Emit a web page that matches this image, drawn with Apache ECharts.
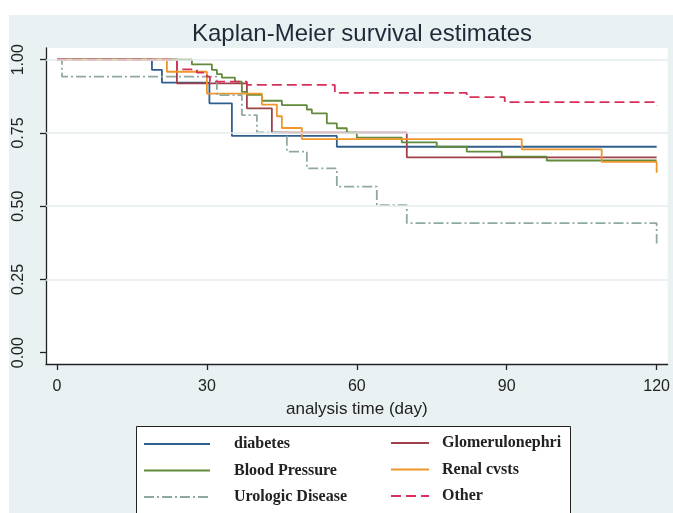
<!DOCTYPE html>
<html>
<head>
<meta charset="utf-8">
<script src="https://cdn.jsdelivr.net/npm/echarts@6/dist/echarts.min.js"></script>
<style>html,body{margin:0;padding:0;background:#fff}#c{width:673px;height:513px}</style>
</head>
<body>
<div id="c"></div>
<script>
// ---- data (time in days, survival probability) ----
const xTicks = [0, 30, 60, 90, 120];
const yTicks = [0, 0.25, 0.5, 0.75, 1];
const yGrid = [0.25, 0.5, 0.75, 1];

const seriesNames = ['diabetes', 'Glomerulonephri', 'Blood Pressure', 'Renal cvsts', 'Urologic Disease', 'Other'];

const diabetesT = [0, 19, 21, 30.5, 35, 56, 120];
const diabetesS = [1, 0.965, 0.922, 0.851, 0.74, 0.703, 0.703];

const glomT = [0, 24, 38, 43, 70, 120];
const glomS = [1, 0.919, 0.834, 0.751, 0.667, 0.667];

const bpT = [0, 27, 31, 32, 33, 35.6, 37, 38, 41, 45, 50, 51, 54, 56, 58, 60, 69, 76, 82, 89, 98, 120];
const bpS = [1, 0.984, 0.965, 0.951, 0.939, 0.925, 0.89, 0.88, 0.86, 0.845, 0.83, 0.817, 0.783, 0.766, 0.751, 0.734, 0.718, 0.703, 0.686, 0.669, 0.656, 0.656];

const renalT = [0, 22, 30, 41, 44, 45, 49, 93, 109, 120];
const renalS = [1, 0.959, 0.884, 0.847, 0.807, 0.767, 0.729, 0.694, 0.651, 0.614];

const uroT = [0, 1, 32, 37, 40, 46, 50, 56, 64, 70, 120];
const uroS = [1, 0.942, 0.879, 0.811, 0.752, 0.686, 0.629, 0.567, 0.504, 0.442, 0.373];

const otherT = [0, 24, 28, 30, 30.6, 38, 55.6, 82, 89.6, 120];
const otherS = [1, 0.967, 0.956, 0.942, 0.925, 0.914, 0.887, 0.872, 0.855, 0.845];

// ---- styling ----
const colors = {
  'diabetes': '#2f5f8f',
  'Glomerulonephri': '#a0404a',
  'Blood Pressure': '#628a3a',
  'Renal cvsts': '#f0962a',
  'Urologic Disease': '#8eaaa0',
  'Other': '#d8305a'
};
const dashes = {
  'Urologic Disease': [10, 3, 2, 3],
  'Other': [10, 5]
};
const pairs = (t, s) => t.map((v, i) => [v, s[i]]);
const dataMap = {
  'diabetes': pairs(diabetesT, diabetesS),
  'Glomerulonephri': pairs(glomT, glomS),
  'Blood Pressure': pairs(bpT, bpS),
  'Renal cvsts': pairs(renalT, renalS),
  'Urologic Disease': pairs(uroT, uroS),
  'Other': pairs(otherT, otherS)
};

const sans = 'Liberation Sans, Arial, sans-serif';
const serif = 'Liberation Serif, Times New Roman, serif';

const series = [{
  type: 'line', name: '_grid', data: [], z: 1, silent: true,
  markLine: {
    silent: true, symbol: 'none', animation: false,
    label: { show: false },
    lineStyle: { color: '#e4edef', width: 1.5, type: 'solid' },
    data: yGrid.map(v => ({ yAxis: v }))
  }
}].concat(seriesNames.map(n => ({
  type: 'line', name: n, step: 'end', symbol: 'none', showSymbol: false,
  animation: false, z: 3,
  data: dataMap[n],
  color: colors[n],
  lineStyle: { color: colors[n], width: 1.8, type: dashes[n] || 'solid' }
})));

const legendCommon = {
  orient: 'vertical', itemHeight: 16, padding: 0, height: 100,
  selectedMode: false,
  itemStyle: { opacity: 0 },
  textStyle: { fontFamily: serif, fontWeight: 'bold', fontSize: 16, color: '#222', lineHeight: 16 }
};

const chart = echarts.init(document.getElementById('c'), null, { renderer: 'canvas' });
chart.setOption({
  animation: false,
  backgroundColor: '#ffffff',
  graphic: [
    { type: 'rect', z: -10, shape: { x: 9, y: 15, width: 664, height: 498 }, style: { fill: '#eaf1f3' } },
    { type: 'rect', z: -5, shape: { x: 136.5, y: 426.5, width: 434, height: 100 }, style: { fill: '#ffffff', stroke: '#222', lineWidth: 1 } }
  ],
  title: {
    text: 'Kaplan-Meier survival estimates',
    left: 357, top: 17, textAlign: 'center',
    textStyle: { fontFamily: sans, fontSize: 24, fontWeight: 'normal', color: '#1f2a38' }
  },
  grid: { left: 46, right: 5, top: 48, bottom: 149, show: true, backgroundColor: '#ffffff', borderWidth: 0 },
  xAxis: {
    type: 'value', min: -2.2, max: 122.2,
    name: 'analysis time (day)', nameLocation: 'middle', nameGap: 37,
    nameTextStyle: { fontFamily: sans, fontSize: 17, color: '#222' },
    axisLine: { show: true, onZero: false, lineStyle: { color: '#222', width: 1.3 } },
    axisTick: { show: true, length: 6, customValues: xTicks, lineStyle: { color: '#222', width: 1.3 } },
    axisLabel: { customValues: xTicks, margin: 15, fontFamily: sans, fontSize: 16, color: '#222' },
    splitLine: { show: false }
  },
  yAxis: {
    type: 'value', min: -0.0386, max: 1.04,
    axisLine: { show: true, onZero: false, lineStyle: { color: '#222', width: 1.3 } },
    axisTick: { show: true, length: 6, customValues: yTicks, lineStyle: { color: '#222', width: 1.3 } },
    axisLabel: { customValues: yTicks, rotate: 90, margin: 19, fontFamily: sans, fontSize: 16, color: '#222',
      formatter: v => v.toFixed(2) },
    splitLine: { show: false }
  },
  legend: [
    Object.assign({}, legendCommon, {
      data: ['diabetes', 'Blood Pressure', 'Urologic Disease'],
      left: 143, top: 431, itemWidth: 66, itemGap: 0.5,
      textStyle: Object.assign({}, legendCommon.textStyle, { padding: [10, 0, 0, 19] })
    }),
    Object.assign({}, legendCommon, {
      data: ['Glomerulonephri', 'Renal cvsts', 'Other'],
      left: 390, top: 432, itemWidth: 38, itemGap: 4.5,
      textStyle: Object.assign({}, legendCommon.textStyle, { padding: [6, 0, 0, 8] })
    })
  ],
  series: series
});
</script>
</body>
</html>
